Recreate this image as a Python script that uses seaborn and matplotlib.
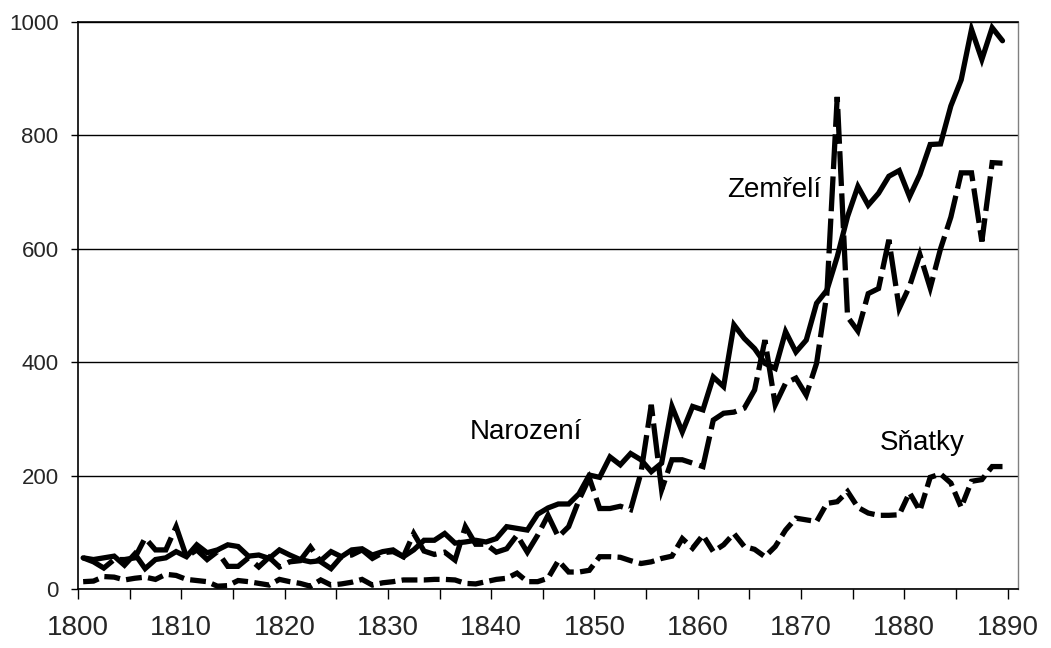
import matplotlib
matplotlib.use("Agg")
import matplotlib.pyplot as plt
import matplotlib.font_manager as fm
import seaborn as sns
import numpy as np
import pandas as pd

# ---------------- data ----------------
years = list(range(1800, 1890))

narozeni = [55, 52, 55, 58, 42, 62, 36, 52, 55, 66,
            57, 78, 64, 69, 78, 75, 58, 60, 54, 69,
            60, 52, 48, 50, 66, 57, 69, 71, 60, 66,
            69, 57, 69, 86, 86, 98, 81, 83, 86, 83,
            89, 110, 107, 104, 132, 143, 150, 150, 168, 201,
            197, 233, 219, 239, 228, 207, 222, 322, 277, 322,
            316, 374, 357, 466, 442, 424, 398, 389, 454, 418,
            439, 504, 527, 586, 657, 710, 677, 698, 728, 738,
            692, 731, 784, 785, 852, 898, 987, 934, 990, 967]

zemreli = [55, 48, 37, 52, 52, 55, 90, 69, 69, 110,
           57, 69, 52, 66, 40, 40, 55, 39, 56, 39,
           48, 50, 74, 48, 36, 57, 60, 69, 54, 64,
           66, 57, 98, 67, 61, 65, 51, 110, 79, 79,
           65, 71, 95, 65, 95, 130, 92, 110, 157, 196,
           142, 142, 146, 140, 205, 325, 175, 228, 228, 222,
           216, 298, 310, 312, 319, 351, 439, 325, 363, 372,
           342, 398, 521, 868, 480, 455, 521, 530, 616, 495,
           534, 590, 531, 600, 656, 734, 734, 613, 752, 751]

snatky = [13, 14, 22, 21, 16, 19, 21, 17, 26, 24,
          17, 15, 13, 5, 6, 15, 13, 10, 7, 17,
          13, 10, 5, 16, 7, 9, 12, 17, 7, 11,
          13, 16, 16, 16, 17, 17, 16, 10, 9, 13,
          17, 19, 28, 13, 13, 19, 50, 30, 30, 33,
          57, 57, 56, 50, 45, 48, 54, 58, 89, 72,
          95, 66, 78, 98, 75, 70, 57, 75, 104, 125,
          122, 119, 151, 154, 172, 144, 134, 130, 130, 131,
          170, 138, 197, 203, 187, 144, 190, 193, 216, 216]

series_names = ["Narození", "Zemřelí", "Sňatky"]
label_pos = {"Narození": (1837.9, 277), "Zemřelí": (1862.8, 704), "Sňatky": (1877.6, 257)}
y_ticks = [0, 200, 400, 600, 800, 1000]
x_label_ticks = list(range(1800, 1891, 10))
x_minor_ticks = list(range(1805, 1890, 10))

# ---------------- style ----------------
sns.set_style("white")
plt.rcParams["font.family"] = ["Liberation Sans", "DejaVu Sans"]

available = {f.name for f in fm.fontManager.ttflist}
narrow = "Liberation Sans Narrow" if "Liberation Sans Narrow" in available else None

fig = plt.figure(figsize=(10.51, 6.48), dpi=100)
ax = fig.add_axes([0.0742, 0.0910, 0.8944, 0.875])

df = pd.DataFrame({"year": years, "Narození": narozeni, "Zemřelí": zemreli, "Sňatky": snatky})
df["xpos"] = df["year"] + 0.5  # categories sit between tick marks

lw = 3.8
styles = {
    "Narození": "-",
    "Zemřelí": (0, (6.6, 1.4)),
    "Sňatky": (0, (3.0, 1.2)),
}
for name in series_names:
    sns.lineplot(data=df, x="xpos", y=name, ax=ax, color="black", lw=lw,
                 linestyle=styles[name], solid_joinstyle="miter",
                 dash_joinstyle="miter", dash_capstyle="butt", zorder=3)

ax.set_xlim(1800, 1891)
ax.set_ylim(0, 1000)
ax.set_xlabel("")
ax.set_ylabel("")

ax.set_yticks(y_ticks)
ax.set_yticklabels([str(v) for v in y_ticks], fontsize=16)
ax.yaxis.grid(True, color="black", lw=1.0, zorder=1)
ax.xaxis.grid(False)

ax.set_xticks(x_label_ticks)
ax.set_xticks(x_minor_ticks, minor=True)
if narrow:
    ax.set_xticklabels([str(v) for v in x_label_ticks], fontsize=22, family=narrow)
else:
    ax.set_xticklabels([str(v) for v in x_label_ticks], fontsize=20)
ax.tick_params(axis="x", which="both", direction="out", length=7, width=1, color="black",
               pad=12, bottom=True)
ax.tick_params(axis="y", which="both", direction="out", length=5, width=1, color="black",
               pad=9, left=True)

for s in ["left", "bottom", "top"]:
    ax.spines[s].set_color("black")
    ax.spines[s].set_linewidth(1.2)
ax.spines["right"].set_color("#808080")
ax.spines["right"].set_linewidth(1.0)

for name in series_names:
    x, y = label_pos[name]
    ax.text(x, y, name, fontsize=20, ha="left", va="center", color="black", zorder=4)

fig.savefig("out.png", dpi=100)
